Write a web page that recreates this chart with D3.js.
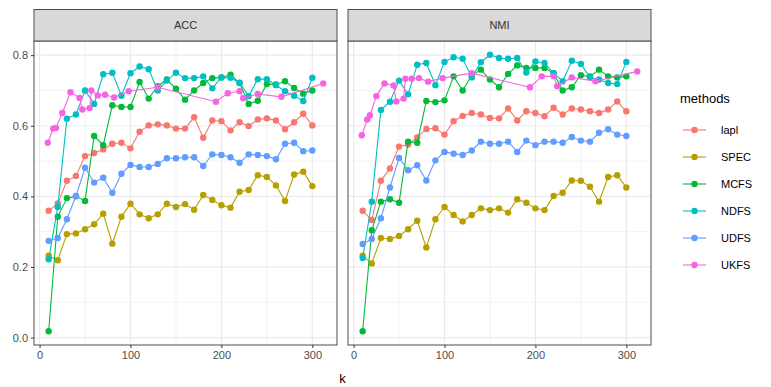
<!DOCTYPE html>
<html><head><meta charset="utf-8">
<script src="https://cdn.jsdelivr.net/npm/d3@7"></script>
<style>body{margin:0;background:#fff}svg{display:block;font-family:"Liberation Sans",Arial,sans-serif}</style>
</head><body><svg id="c" width="771" height="387"></svg>
<script>
const panels = ["ACC", "NMI"];
const methods = ["lapl", "SPEC", "MCFS", "NDFS", "UDFS", "UKFS"];
const colors = ["#F8766D", "#B79F00", "#00BA38", "#00BFC4", "#619CFF", "#F564E3"];
const kValues = [10,20,30,40,50,60,70,80,90,100,110,120,130,140,150,160,170,180,190,200,210,220,230,240,250,260,270,280,290,300];
const ukfsK = [9,15,18,25,34,44,47,55,57,64,72,82,98,130,194,207,220,224,240,266,312];
const xTicks = [0, 100, 200, 300];
const yTicks = [0.0, 0.2, 0.4, 0.6, 0.8];

const accLapl = [0.359,0.38,0.444,0.458,0.514,0.523,0.533,0.549,0.552,0.536,0.583,0.601,0.604,0.601,0.592,0.592,0.624,0.566,0.615,0.613,0.587,0.61,0.599,0.618,0.621,0.615,0.59,0.61,0.634,0.601];
const accSpec = [0.232,0.219,0.293,0.295,0.307,0.321,0.351,0.266,0.342,0.379,0.349,0.338,0.349,0.379,0.37,0.378,0.362,0.404,0.39,0.375,0.368,0.413,0.418,0.46,0.455,0.431,0.387,0.462,0.47,0.429];
const accMcfs = [0.018,0.342,0.395,0.40,0.387,0.571,0.545,0.658,0.653,0.653,0.724,0.677,0.712,0.731,0.705,0.674,0.70,0.721,0.735,0.737,0.745,0.721,0.662,0.671,0.718,0.717,0.726,0.707,0.691,0.70];
const accNdfs = [0.222,0.37,0.62,0.632,0.70,0.662,0.746,0.75,0.685,0.749,0.768,0.76,0.70,0.728,0.75,0.735,0.735,0.74,0.706,0.737,0.736,0.722,0.684,0.732,0.732,0.715,0.698,0.685,0.67,0.736];
const accUdfs = [0.274,0.282,0.335,0.401,0.481,0.439,0.453,0.41,0.464,0.489,0.483,0.483,0.492,0.508,0.508,0.511,0.511,0.486,0.519,0.517,0.511,0.495,0.519,0.517,0.514,0.505,0.549,0.552,0.528,0.53];
const accUkfs = [0.552,0.592,0.594,0.636,0.695,0.679,0.646,0.65,0.70,0.686,0.688,0.68,0.698,0.709,0.668,0.692,0.698,0.678,0.69,0.682,0.72];

const nmiLapl = [0.359,0.333,0.444,0.479,0.541,0.547,0.567,0.591,0.593,0.575,0.613,0.628,0.636,0.632,0.622,0.621,0.649,0.615,0.641,0.636,0.627,0.651,0.632,0.649,0.646,0.641,0.636,0.646,0.669,0.641];
const nmiSpec = [0.232,0.21,0.282,0.279,0.288,0.307,0.331,0.255,0.335,0.37,0.347,0.329,0.347,0.366,0.361,0.366,0.354,0.392,0.382,0.366,0.361,0.401,0.41,0.445,0.444,0.427,0.385,0.455,0.46,0.425];
const nmiMcfs = [0.018,0.304,0.385,0.392,0.382,0.555,0.552,0.670,0.667,0.672,0.74,0.70,0.743,0.759,0.731,0.709,0.747,0.771,0.764,0.764,0.764,0.749,0.70,0.709,0.743,0.74,0.759,0.74,0.737,0.74];
const nmiNdfs = [0.225,0.385,0.645,0.668,0.728,0.689,0.773,0.778,0.715,0.781,0.794,0.79,0.737,0.78,0.801,0.792,0.79,0.792,0.751,0.782,0.778,0.749,0.726,0.784,0.775,0.737,0.731,0.721,0.718,0.781];
const nmiUdfs = [0.265,0.279,0.338,0.425,0.509,0.474,0.488,0.445,0.502,0.526,0.521,0.517,0.53,0.555,0.549,0.549,0.555,0.526,0.558,0.545,0.555,0.555,0.552,0.568,0.558,0.555,0.58,0.59,0.575,0.571];
const nmiUkfs = [0.573,0.618,0.63,0.684,0.72,0.714,0.669,0.677,0.733,0.733,0.735,0.725,0.735,0.749,0.709,0.74,0.74,0.712,0.737,0.726,0.754];

const seriesByPanel = {
  ACC: [accLapl, accSpec, accMcfs, accNdfs, accUdfs, accUkfs],
  NMI: [nmiLapl, nmiSpec, nmiMcfs, nmiNdfs, nmiUdfs, nmiUkfs]
};
function kFor(m) { return m === "UKFS" ? ukfsK : kValues; }

const svg = d3.select("#c");
const plotTop = 41, plotBottom = 345, stripTop = 9.5;
const panelX = [[34, 337], [348, 651]];

const allK = kValues.concat(ukfsK);
const allV = [].concat(...Object.values(seriesByPanel).flat());
const [kMin, kMax] = d3.extent(allK), [vMin, vMax] = d3.extent(allV);
const kPad = (kMax - kMin) * 0.05, vPad = (vMax - vMin) * 0.05;
const y = d3.scaleLinear().domain([vMin - vPad, vMax + vPad]).range([plotBottom, plotTop]);

panels.forEach((p, pi) => {
  const [x0, x1] = panelX[pi];
  const x = d3.scaleLinear().domain([kMin - kPad, kMax + kPad]).range([x0, x1]);
  const g = svg.append("g");
  g.append("rect").attr("x", x0).attr("y", plotTop).attr("width", x1 - x0).attr("height", plotBottom - plotTop).attr("fill", "#fff");
  const xMinor = [50, 150, 250], yMinor = [0.1, 0.3, 0.5, 0.7];
  xMinor.forEach(v => g.append("line").attr("x1", x(v)).attr("x2", x(v)).attr("y1", plotTop).attr("y2", plotBottom).attr("stroke", "#ebebeb").attr("stroke-width", 0.6));
  yMinor.forEach(v => g.append("line").attr("x1", x0).attr("x2", x1).attr("y1", y(v)).attr("y2", y(v)).attr("stroke", "#ebebeb").attr("stroke-width", 0.6));
  xTicks.forEach(v => g.append("line").attr("x1", x(v)).attr("x2", x(v)).attr("y1", plotTop).attr("y2", plotBottom).attr("stroke", "#ebebeb").attr("stroke-width", 1.2));
  yTicks.forEach(v => g.append("line").attr("x1", x0).attr("x2", x1).attr("y1", y(v)).attr("y2", y(v)).attr("stroke", "#ebebeb").attr("stroke-width", 1.2));

  const clipId = "clip" + pi;
  svg.append("clipPath").attr("id", clipId).append("rect").attr("x", x0).attr("y", plotTop).attr("width", x1 - x0).attr("height", plotBottom - plotTop);
  const dg = g.append("g").attr("clip-path", `url(#${clipId})`);
  methods.forEach((m, mi) => {
    const ks = kFor(m), vals = seriesByPanel[p][mi];
    const pts = ks.map((k, i) => [k, vals[i]]);
    dg.append("path").datum(pts)
      .attr("d", d3.line().x(d => x(d[0])).y(d => y(d[1])))
      .attr("fill", "none").attr("stroke", colors[mi]).attr("stroke-width", 1.1);
    dg.selectAll(null).data(pts).enter().append("circle")
      .attr("cx", d => x(d[0])).attr("cy", d => y(d[1])).attr("r", 3.2).attr("fill", colors[mi]);
  });

  g.append("rect").attr("x", x0).attr("y", plotTop).attr("width", x1 - x0).attr("height", plotBottom - plotTop)
    .attr("fill", "none").attr("stroke", "#4d4d4d").attr("stroke-width", 1);
  g.append("rect").attr("x", x0).attr("y", stripTop).attr("width", x1 - x0).attr("height", plotTop - stripTop)
    .attr("fill", "#d9d9d9").attr("stroke", "#4d4d4d").attr("stroke-width", 1);
  g.append("text").attr("x", (x0 + x1) / 2).attr("y", (stripTop + plotTop) / 2 + 4).attr("text-anchor", "middle")
    .attr("font-size", 11).attr("fill", "#333").text(p);

  const xa = g.append("g").attr("transform", `translate(0,${plotBottom})`)
    .call(d3.axisBottom(x).tickValues(xTicks).tickSize(3).tickPadding(3).tickFormat(d3.format("d")));
  xa.select(".domain").remove();
  xa.selectAll("line").attr("stroke", "#333");
  xa.selectAll("text").attr("font-size", 11).attr("fill", "#4d4d4d").attr("font-family", "Liberation Sans, Arial, sans-serif");

  if (pi === 0) {
    const ya = g.append("g").attr("transform", `translate(${x0},0)`)
      .call(d3.axisLeft(y).tickValues(yTicks).tickSize(3).tickPadding(3).tickFormat(d3.format(".1f")));
    ya.select(".domain").remove();
    ya.selectAll("line").attr("stroke", "#333");
    ya.selectAll("text").attr("font-size", 11).attr("fill", "#4d4d4d").attr("font-family", "Liberation Sans, Arial, sans-serif");
  }
});

svg.append("text").attr("x", (panelX[0][0] + panelX[1][1]) / 2).attr("y", 383).attr("text-anchor", "middle")
  .attr("font-size", 13).attr("fill", "#000").text("k");

const lg = svg.append("g");
lg.append("text").attr("x", 680).attr("y", 103).attr("font-size", 13).attr("fill", "#000").text("methods");
methods.forEach((m, i) => {
  const cy = 130 + i * 27;
  lg.append("line").attr("x1", 683).attr("x2", 706).attr("y1", cy).attr("y2", cy).attr("stroke", colors[i]).attr("stroke-width", 1.1);
  lg.append("circle").attr("cx", 694.5).attr("cy", cy).attr("r", 3.2).attr("fill", colors[i]);
  lg.append("text").attr("x", 721).attr("y", cy + 4).attr("font-size", 11).attr("fill", "#000").text(m);
});
</script></body></html>
